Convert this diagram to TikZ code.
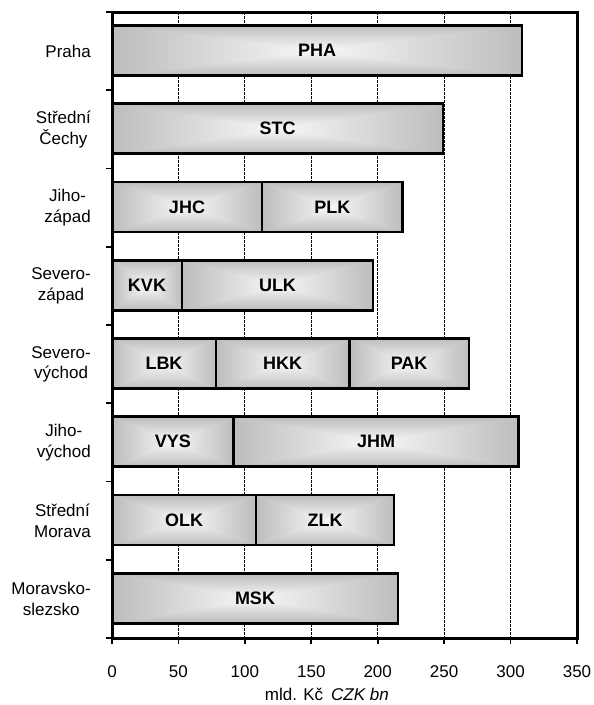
\documentclass[tikz,border=0pt]{standalone}
\usepackage{fontspec}
\setmainfont{Liberation Sans}
\pgfdeclarefunctionalshading{barshade}{\pgfpoint{0bp}{0bp}}{\pgfpoint{100bp}{100bp}}{}{
  50 sub abs exch 50 sub abs
  2 copy lt {exch} if pop
  25 2 copy gt {exch} if pop
  25 div
  -0.23 mul 0.97 add
  dup dup
}
\tikzset{
  frameline/.style={line width=3pt},
  gridline/.style={dash pattern=on 2.5pt off 1.5pt, line width=1pt},
  tickline/.style={line width=1.6pt},
  bar/.style={draw, line width=2.6pt, shade, shading=barshade, minimum height=50pt,
    inner sep=0pt, font=\fontsize{18}{20}\selectfont\bfseries},
  cat/.style={anchor=east, align=center, inner sep=0pt, font=\fontsize{17}{20.5}\selectfont},
  ticklab/.style={inner sep=0pt, font=\fontsize{17}{20}\selectfont},
}
\begin{document}
\begin{tikzpicture}[x=1pt,y=-1pt]
\useasboundingbox (0,0) rectangle (594,705);
% grid
\foreach \k in {1,...,6}{
  \draw[gridline] ({112+66.43*\k},12) -- ({112+66.43*\k},638);
}
% bars
\node[bar, minimum width=410pt]   (pha) at (317,50.5) {PHA};
\node[bar, minimum width=331pt]   (stc) at (277.5,128.75) {STC};
\node[bar, minimum width=150pt]   (jhc) at (187,207) {JHC};
\node[bar, minimum width=140.6pt] (plk) at (332.3,207) {PLK};
\node[bar, minimum width=70pt]    (kvk) at (147,285.25) {KVK};
\node[bar, minimum width=191pt]   (ulk) at (277.5,285.25) {ULK};
\node[bar, minimum width=104pt]   (lbk) at (164,363.5) {LBK};
\node[bar, minimum width=133.3pt] (hkk) at (282.65,363.5) {HKK};
\node[bar, minimum width=119.7pt] (pak) at (409.15,363.5) {PAK};
\node[bar, minimum width=121.7pt] (vys) at (172.85,441.75) {VYS};
\node[bar, minimum width=284.6pt] (jhm) at (376,441.75) {JHM};
\node[bar, minimum width=144pt]   (olk) at (184,520) {OLK};
\node[bar, minimum width=138pt]   (zlk) at (325,520) {ZLK};
\node[bar, minimum width=286pt]   (msk) at (255,598.25) {MSK};
% frame and axes
\draw[frameline] (112,12) rectangle (577,638);
\foreach \i in {0,...,8}{
  \draw[tickline] (105.5,{12+78.25*\i}) -- (112,{12+78.25*\i});
}
\foreach \k in {0,...,7}{
  \draw[tickline] ({112+66.43*\k},638) -- ({112+66.43*\k},643.5);
}
% category labels
\node[cat] (c1) at (91,51.1) {Praha};
\node[cat] (c2) at (91,129.4) {Střední\\Čechy};
\node[cat] (c3) at (91,207.6) {Jiho-\\západ};
\node[cat] (c4) at (91,285.9) {Severo-\\západ};
\node[cat] (c5) at (91,364.1) {Severo-\\východ};
\node[cat] (c6) at (91,442.4) {Jiho-\\východ};
\node[cat] (c7) at (91,520.6) {Střední\\Morava};
\node[cat] (c8) at (91,598.9) {Moravsko-\\slezsko};
% tick labels
\foreach \k/\v in {0/0,1/50,2/100,3/150,4/200,5/250,6/300,7/350}{
  \node[ticklab] (t\k) at ({112+66.43*\k},672) {\v};
}
\node[ticklab] (unitcz) at (294,694) {mld. Kč};
\node[ticklab, font=\fontsize{17}{20}\selectfont\itshape] (unitEn) at (360,694) {CZK bn};
\end{tikzpicture}
\end{document}
